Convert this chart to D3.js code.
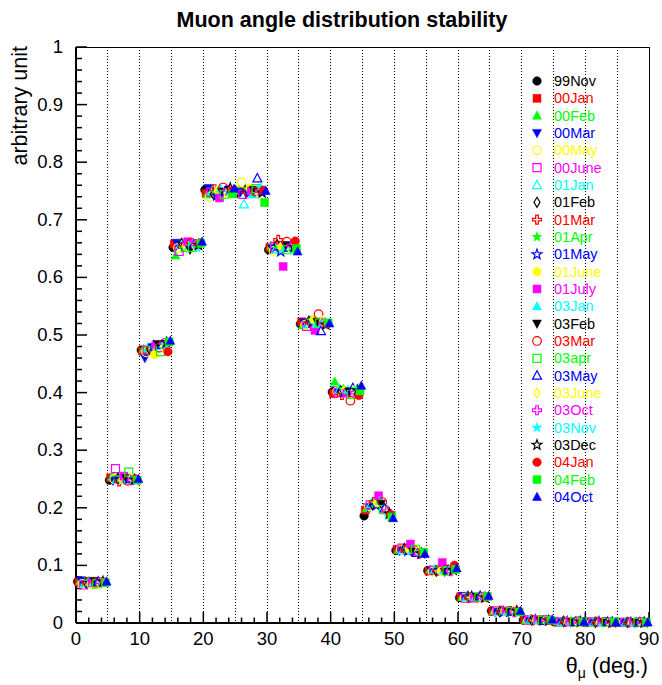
<!DOCTYPE html>
<html><head><meta charset="utf-8">
<script src="https://cdn.jsdelivr.net/npm/d3@7"></script>
<style>body{margin:0;background:#fff}svg{display:block}text{font-family:"Liberation Sans",Arial,Helvetica,sans-serif}</style>
</head><body>
<script>
const seriesNames = ["99Nov","00Jan","00Feb","00Mar","00May","00June","01Jan","01Feb","01Mar","01Apr","01May","01June","01July","03Jan","03Feb","03Mar","03apr","03May","03June","03Oct","03Nov","03Dec","04Jan","04Feb","04Oct"];
const binStarts = [0,5,10,15,20,25,30,35,40,45,50,55,60,65,70,75,80,85];
const xTickLabels = [0,10,20,30,40,50,60,70,80,90];
const yTickLabels = [0,0.1,0.2,0.3,0.4,0.5,0.6,0.7,0.8,0.9,1];
const s99Nov  = [0.072,0.248,0.474,0.652,0.752,0.746,0.648,0.519,0.401,0.186,0.126,0.091,0.044,0.021,0.005,0.002,0.001,0.001];
const s00Jan  = [0.071,0.252,0.472,0.658,0.746,0.750,0.652,0.523,0.398,0.196,0.128,0.090,0.046,0.020,0.006,0.002,0.002,0.001];
const s00Feb  = [0.073,0.254,0.476,0.638,0.744,0.752,0.655,0.517,0.419,0.199,0.127,0.093,0.045,0.021,0.005,0.003,0.001,0.001];
const s00Mar  = [0.074,0.247,0.460,0.660,0.755,0.748,0.650,0.522,0.404,0.201,0.125,0.091,0.047,0.019,0.005,0.002,0.002,0.001];
const s00May  = [0.068,0.250,0.470,0.651,0.740,0.765,0.646,0.518,0.402,0.203,0.128,0.089,0.044,0.020,0.004,0.002,0.001,0.001];
const s00June = [0.066,0.268,0.474,0.645,0.748,0.744,0.654,0.515,0.400,0.205,0.130,0.092,0.043,0.021,0.005,0.002,0.002,0.001];
const s01Jan  = [0.069,0.249,0.478,0.656,0.750,0.727,0.649,0.520,0.405,0.207,0.126,0.093,0.045,0.019,0.006,0.002,0.001,0.001];
const s01Feb  = [0.070,0.251,0.475,0.659,0.745,0.751,0.657,0.524,0.403,0.206,0.129,0.090,0.046,0.020,0.005,0.003,0.001,0.001];
const s01Mar  = [0.071,0.246,0.477,0.653,0.753,0.749,0.665,0.521,0.396,0.210,0.127,0.091,0.044,0.021,0.005,0.002,0.002,0.001];
const s01Apr  = [0.072,0.253,0.479,0.650,0.747,0.753,0.650,0.525,0.406,0.208,0.126,0.094,0.045,0.020,0.004,0.002,0.001,0.001];
const s01May  = [0.069,0.250,0.481,0.657,0.742,0.747,0.645,0.522,0.401,0.204,0.125,0.092,0.046,0.019,0.005,0.002,0.002,0.001];
const s01June = [0.067,0.248,0.466,0.654,0.751,0.755,0.653,0.526,0.404,0.209,0.128,0.090,0.044,0.020,0.005,0.002,0.001,0.001];
const s01July = [0.070,0.255,0.482,0.662,0.738,0.750,0.619,0.508,0.399,0.221,0.137,0.105,0.043,0.021,0.006,0.002,0.002,0.001];
const s03Jan  = [0.071,0.249,0.480,0.655,0.754,0.744,0.651,0.519,0.405,0.212,0.126,0.091,0.045,0.020,0.005,0.003,0.001,0.001];
const s03Feb  = [0.073,0.251,0.484,0.648,0.749,0.752,0.656,0.523,0.402,0.207,0.124,0.089,0.046,0.019,0.004,0.002,0.001,0.001];
const s03Mar  = [0.070,0.247,0.478,0.660,0.756,0.749,0.662,0.536,0.386,0.210,0.127,0.093,0.044,0.021,0.005,0.002,0.002,0.001];
const s03apr  = [0.068,0.262,0.471,0.652,0.744,0.754,0.648,0.521,0.397,0.197,0.128,0.090,0.045,0.020,0.005,0.002,0.001,0.001];
const s03May  = [0.072,0.250,0.483,0.657,0.750,0.772,0.652,0.507,0.408,0.199,0.122,0.092,0.047,0.020,0.004,0.002,0.002,0.001];
const s03June = [0.069,0.252,0.480,0.654,0.746,0.746,0.649,0.524,0.403,0.193,0.125,0.091,0.044,0.021,0.005,0.002,0.001,0.001];
const s03Oct  = [0.071,0.248,0.486,0.658,0.752,0.750,0.655,0.520,0.400,0.194,0.120,0.090,0.045,0.019,0.005,0.003,0.001,0.001];
const s03Nov  = [0.070,0.251,0.482,0.651,0.748,0.756,0.647,0.522,0.406,0.186,0.123,0.094,0.046,0.020,0.005,0.002,0.002,0.001];
const s03Dec  = [0.072,0.249,0.487,0.656,0.755,0.747,0.653,0.518,0.404,0.190,0.121,0.092,0.044,0.021,0.004,0.002,0.001,0.001];
const s04Jan  = [0.071,0.250,0.471,0.660,0.750,0.751,0.663,0.519,0.395,0.188,0.122,0.100,0.045,0.020,0.005,0.002,0.001,0.001];
const s04Feb  = [0.070,0.248,0.488,0.659,0.745,0.730,0.650,0.521,0.403,0.184,0.123,0.093,0.046,0.019,0.005,0.002,0.002,0.001];
const s04Oct  = [0.072,0.250,0.490,0.662,0.754,0.750,0.645,0.520,0.412,0.182,0.120,0.095,0.047,0.021,0.006,0.002,0.001,0.001];
const seriesValues = [s99Nov,s00Jan,s00Feb,s00Mar,s00May,s00June,s01Jan,s01Feb,s01Mar,s01Apr,s01May,s01June,s01July,s03Jan,s03Feb,s03Mar,s03apr,s03May,s03June,s03Oct,s03Nov,s03Dec,s04Jan,s04Feb,s04Oct];

const palette = ["#000000","#ff0000","#00ff00","#0000ff","#ffff00","#ff00ff","#00ffff"];
const shapes = ["circle","square","tri","tridown","ocircle","osquare","otri","odiamond","ocross","star","ostar"];

const W=662,H=685, x0=76, x1=649, y0=623, y1=47;
const svg = d3.select("body").append("svg").attr("width",W).attr("height",H);
const x = d3.scaleLinear().domain([0,90]).range([x0,x1]);
const y = d3.scaleLinear().domain([0,1]).range([y0,y1]);

// grid
const grid = svg.append("g");
d3.range(5,90,5).forEach(v=>{
  grid.append("line").attr("x1",x(v)).attr("x2",x(v)).attr("y1",y1).attr("y2",y0)
    .attr("stroke","#000").attr("stroke-width",1).attr("stroke-dasharray","1,2").attr("shape-rendering","crispEdges");
});

// frame
svg.append("rect").attr("x",x0).attr("y",y1).attr("width",x1-x0).attr("height",y0-y1)
  .attr("fill","none").attr("stroke","#000").attr("stroke-width",1).attr("shape-rendering","crispEdges");
svg.append("line").attr("x1",x0).attr("x2",x1).attr("y1",y0).attr("y2",y0).attr("stroke","#000").attr("stroke-width",2);
svg.append("line").attr("x1",x0).attr("x2",x0).attr("y1",y1).attr("y2",y0).attr("stroke","#000").attr("stroke-width",2);

// x ticks
const xt = svg.append("g");
d3.range(0,91,2).forEach(v=>{ if(v%10!==0) xt.append("line").attr("x1",x(v)).attr("x2",x(v)).attr("y1",y0).attr("y2",y0-5.5).attr("stroke","#000").attr("stroke-width",1.5); });
xTickLabels.forEach(v=>{
  xt.append("line").attr("x1",x(v)).attr("x2",x(v)).attr("y1",y0).attr("y2",y0-11).attr("stroke","#000").attr("stroke-width",1.5);
  xt.append("text").attr("x",x(v)).attr("y",y0+22).attr("text-anchor","middle").attr("font-size",18.5).text(v);
});
// y ticks
const yt = svg.append("g");
d3.range(0,51,1).forEach(i=>{ const v=i/50; if(i%5!==0) yt.append("line").attr("x1",x0).attr("x2",x0+6).attr("y1",y(v)).attr("y2",y(v)).attr("stroke","#000").attr("stroke-width",1.5); });
yTickLabels.forEach(v=>{
  yt.append("line").attr("x1",x0).attr("x2",x0+11).attr("y1",y(v)).attr("y2",y(v)).attr("stroke","#000").attr("stroke-width",1.5);
  yt.append("text").attr("x",x0-13).attr("y",y(v)+6).attr("text-anchor","end").attr("font-size",18.5).text(v===0?"0":(v===1?"1":d3.format(".1f")(v)));
});

// titles
svg.append("text").attr("x",342).attr("y",27).attr("text-anchor","middle").attr("font-size",21.5).attr("font-weight","bold").text("Muon angle distribution stability");
svg.append("text").attr("transform","translate(27,46) rotate(-90)").attr("text-anchor","end").attr("font-size",21.5).text("arbitrary unit");
const xl = svg.append("text").attr("x",648).attr("y",673).attr("text-anchor","end").attr("font-size",21.5);
xl.append("tspan").text("θ");
xl.append("tspan").attr("font-size",14).attr("dy",5).text("μ");
xl.append("tspan").attr("dy",-5).text(" (deg.)");

function starPath(ro,ri){
  let p=[];
  for(let k=0;k<10;k++){const a=-Math.PI/2+k*Math.PI/5;const r=k%2?ri:ro;p.push([r*Math.cos(a),r*Math.sin(a)]);}
  return "M"+p.map(q=>q[0].toFixed(2)+","+q[1].toFixed(2)).join("L")+"Z";
}
function markerPath(shape){
  switch(shape){
    case "circle": case "ocircle": return d3.symbol(d3.symbolCircle, Math.PI*4.3*4.3)();
    case "square": case "osquare": return "M-4,-4L4,-4L4,4L-4,4Z";
    case "tri": case "otri": return "M0,-4.8L4.5,3.6L-4.5,3.6Z";
    case "tridown": return "M0,4.8L4.5,-3.6L-4.5,-3.6Z";
    case "odiamond": return "M0,-5L3,0L0,5L-3,0Z";
    case "ocross": return "M-1.3,-4.5L1.3,-4.5L1.3,-1.3L4.5,-1.3L4.5,1.3L1.3,1.3L1.3,4.5L-1.3,4.5L-1.3,1.3L-4.5,1.3L-4.5,-1.3L-1.3,-1.3Z";
    case "star": case "ostar": return starPath(5.2,2.1);
  }
}
function drawMarker(g,shape,color,px,py){
  const open = shape.startsWith("o");
  g.append("path").attr("d",markerPath(shape)).attr("transform",`translate(${px},${py})`)
    .attr("fill",open?"none":color).attr("stroke",color).attr("stroke-width",open?1.2:0.5);
}

// data points
const pts = svg.append("g");
seriesValues.forEach((vals,i)=>{
  const color = palette[i%7], shape = shapes[i%11];
  vals.forEach((v,b)=>{
    drawMarker(pts,shape,color,x(binStarts[b]+0.25+0.19*i),y(v));
  });
});

// legend
const lg = svg.append("g");
seriesNames.forEach((n,i)=>{
  const color = palette[i%7], shape = shapes[i%11];
  const ly = 81 + i*17.33;
  drawMarker(lg,shape,color,537,ly);
  lg.append("text").attr("x",554).attr("y",ly+5).attr("font-size",14.5).attr("fill",color).text(n);
});
</script>
</body></html>
